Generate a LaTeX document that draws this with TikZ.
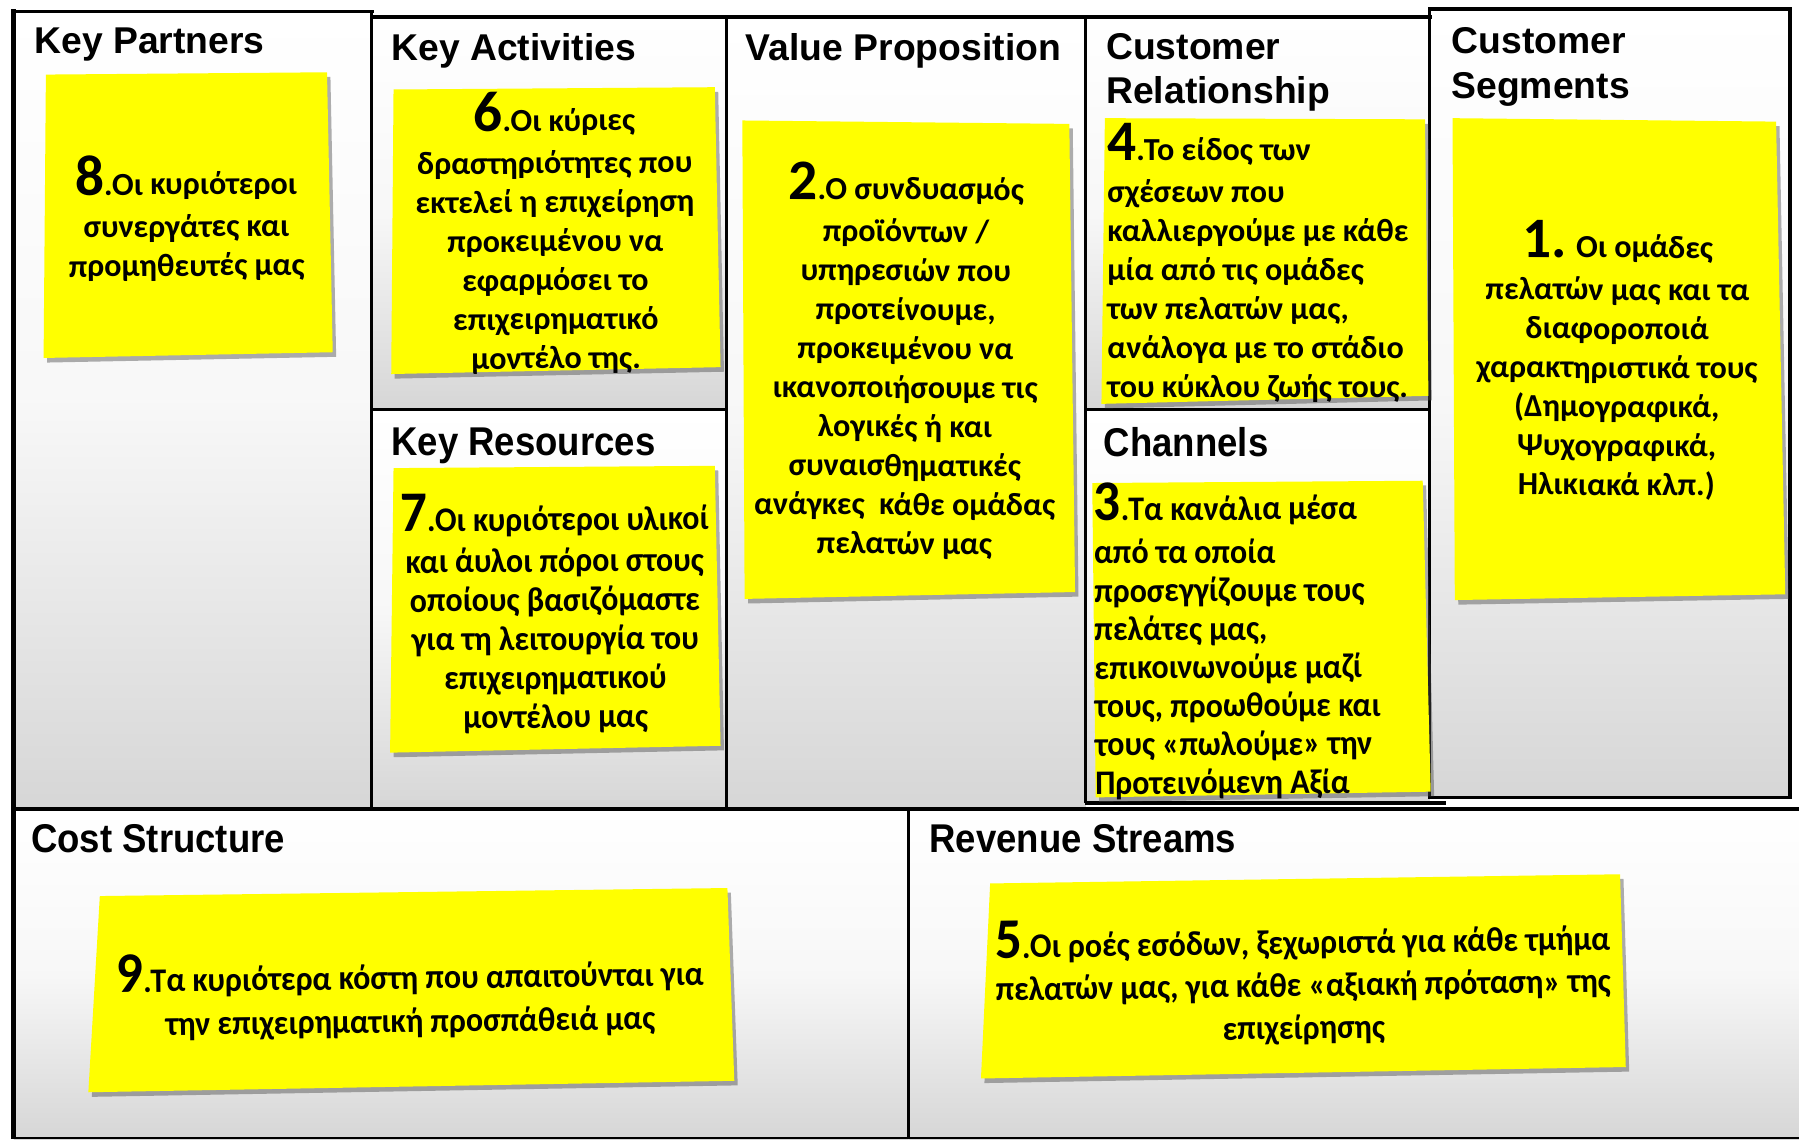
\documentclass[tikz,border=0pt]{standalone}
\usepackage{fontspec}
\usetikzlibrary{shadows}
\newfontfamily\titlefont{Liberation Sans}
\newfontfamily\titlefontc{Liberation Sans}[FakeStretch=0.91]
\newfontfamily\notefont{Carlito}
\newfontfamily\notefontc{Carlito}[FakeStretch=0.93]
\definecolor{noteyellow}{RGB}{255,255,0}
\newcommand\bignum[1]{{\fontsize{50}{34}\selectfont #1}}
\begin{document}
\begin{tikzpicture}[x=1pt,y=-1pt,
  panel/.style={top color=white, bottom color=black!16, middle color=black!3},
  border/.style={draw=black, line width=3pt},
  note/.style={fill=noteyellow, drop shadow={shadow xshift=3pt, shadow yshift=-4pt, opacity=.45, fill=black!70}},
  ttl/.style={font=\titlefont\bfseries\fontsize{32.5}{36}\selectfont, inner sep=0pt, anchor=base west},
  ttlb/.style={font=\titlefontc\bfseries\fontsize{35}{36}\selectfont, inner sep=0pt, anchor=base west},
  ntxt/.style={font=\notefont\bfseries\fontsize{28}{34}\selectfont, inner sep=0pt, align=center, anchor=north},
  ntxtl/.style={font=\notefont\bfseries\fontsize{28}{34}\selectfont, inner sep=0pt, align=left, anchor=north west},
  ctxt/.style={font=\notefontc\bfseries\fontsize{30}{34}\selectfont, inner sep=0pt, align=center, anchor=north},
  ctxtl/.style={font=\notefontc\bfseries\fontsize{30}{33.5}\selectfont, inner sep=0pt, align=left, anchor=north west}
]
\useasboundingbox (0,0) rectangle (1568,993);
\fill[white] (0,0) rectangle (1568,993);

% panels
\path[panel] (12,10) rectangle (324,705);
\path[panel] (324,15) rectangle (633,357);
\path[panel] (324,357) rectangle (633,705);
\path[panel] (633,15) rectangle (946,705);
\path[panel] (946,15) rectangle (1246,357);
\path[panel] (946,357) rectangle (1246,700);
\path[panel] (1246,8) rectangle (1560,695);
\path[panel] (12,705) rectangle (792,993);
\path[panel] (792,705) rectangle (1568,993);

% borders
\draw[border] (12,10) -- (326,10);
\draw[border] (324,15) -- (1248,15);
\draw[border] (1246,8) rectangle (1560,695);
\draw[border] (324,10) -- (324,705);
\draw[border] (633,15) -- (633,705);
\draw[border] (946,15) -- (946,700);
\draw[border] (324,357) -- (633,357);
\draw[border] (946,357) -- (1246,357);
\draw[border] (946,700) -- (1260,700);
\draw[border] (12,705) -- (1568,705);
\draw[border] (792,705) -- (792,993);
\draw[draw=black, line width=2pt] (12,992) -- (1568,992);
\draw[draw=black, line width=4.5pt] (12,8) -- (12,993);

% titles
\node[ttl] (tKP) at (30,47) {Key Partners};
\node[ttl] (tKA) at (341,53) {Key Activities};
\node[ttl] (tVP) at (650,53) {Value Proposition};
\node[ttl] (tCR1) at (964,52) {Customer};
\node[ttl] (tCR2) at (964,90) {Relationship};
\node[ttl] (tCS1) at (1265,47) {Customer};
\node[ttl] (tCS2) at (1265,86) {Segments};
\node[ttlb] (tKR) at (341,397) {Key Resources};
\node[ttlb] (tCH) at (962,398) {Channels};
\node[ttlb] (tCO) at (27,743) {Cost Structure};
\node[ttlb] (tRV) at (810,743) {Revenue Streams};

% sticky notes
\fill[note] (40,65) -- (285,63) -- (290,307) -- (38,312) -- cycle;
\fill[note] (343,78) -- (623,76) -- (628,320) -- (341,326) -- cycle;
\fill[note] (647,105) -- (932,108) -- (937,516) -- (649,522) -- cycle;
\fill[note] (963,103) -- (1242,104) -- (1245,345) -- (960,352) -- cycle;
\fill[note] (952,421) -- (1240,419) -- (1247,690) -- (955,695) -- cycle;
\fill[note] (1266,103) -- (1548,106) -- (1556,518) -- (1268,523) -- cycle;
\fill[note] (343,408) -- (623,406) -- (628,650) -- (340,656) -- cycle;
\fill[note] (87,781) -- (634,774) -- (640,942) -- (77,952) -- cycle;
\fill[note] (863,770) -- (1412,762) -- (1417,930) -- (855,940) -- cycle;

% note texts
\node[ntxt, rotate=0.4] (nKP) at (162,135) {\bignum{8}.Οι κυριότεροι\\[3pt] συνεργάτες και\\ προμηθευτές μας};
\node[ntxt, rotate=0.4] (nKA) at (483,80) {\bignum{6}.Οι κύριες\\[3pt] δραστηριότητες που\\ εκτελεί η επιχείρηση\\ προκειμένου να\\ εφαρμόσει το\\ επιχειρηματικό\\ μοντέλο της.};
\node[ntxt, rotate=-0.3] (nVP) at (790,141) {\bignum{2}.Ο συνδυασμός\\[3pt] προϊόντων /\\ υπηρεσιών που\\ προτείνουμε,\\ προκειμένου να\\ ικανοποιήσουμε τις\\ λογικές ή και\\ συναισθηματικές\\ ανάγκες \ κάθε ομάδας\\ πελατών μας};
\node[ntxtl] (nCR) at (965,107) {\bignum{4}.Το είδος των\\[3pt] σχέσεων που\\ καλλιεργούμε με κάθε\\ μία από τις ομάδες\\ των πελατών μας,\\ ανάλογα με το στάδιο\\ του κύκλου ζωής τους.};
\node[ntxt, rotate=-0.3] (nCS) at (1410,192) {\bignum{1.} Οι ομάδες\\[3pt] πελατών μας και τα\\ διαφοροποιά\\ χαρακτηριστικά τους\\ (Δημογραφικά,\\ Ψυχογραφικά,\\ Ηλικιακά κλπ.)};
\node[ctxtl, rotate=0.3] (nCH) at (953,421) {\bignum{3}.Τα κανάλια μέσα\\[4pt] από τα οποία\\ προσεγγίζουμε τους\\ πελάτες μας,\\ επικοινωνούμε μαζί\\ τους, προωθούμε και\\ τους «πωλούμε» την\\ Προτεινόμενη Αξία};
\node[ctxt, rotate=0.4] (nKR) at (483,430) {\bignum{7}.Οι κυριότεροι υλικοί\\[2pt] και άυλοι πόροι στους\\ οποίους βασιζόμαστε\\ για τη λειτουργία του\\ επιχειρηματικού\\ μοντέλου μας};
\node[ctxt, rotate=0.7, font=\notefontc\bfseries\fontsize{30}{38}\selectfont] (nCO) at (357,829) {\bignum{9}.Τα κυριότερα κόστη που απαιτούνται για\\ την επιχειρηματική προσπάθειά μας};
\node[ctxt, rotate=0.8, font=\notefontc\bfseries\fontsize{30}{37}\selectfont] (nRV) at (1135,799) {\bignum{5}.Οι ροές εσόδων, ξεχωριστά για κάθε τμήμα\\ πελατών μας, για κάθε «αξιακή πρόταση» της\\ επιχείρησης};
\end{tikzpicture}
\end{document}
